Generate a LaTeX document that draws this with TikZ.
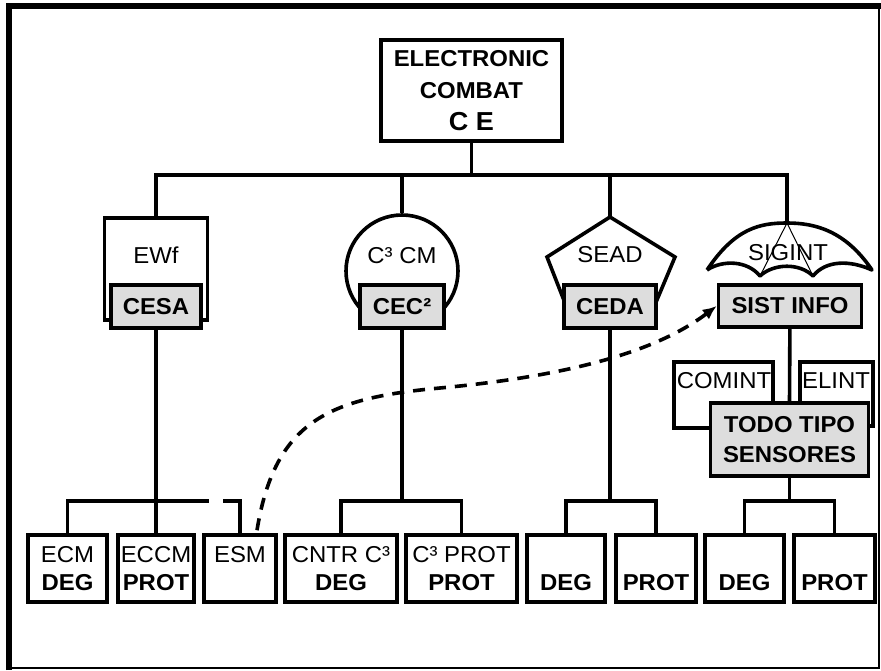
\documentclass[tikz,border=0pt]{standalone}
\usepackage{fontspec}
\setmainfont{Liberation Sans}[FakeStretch=1.04]
\usetikzlibrary{arrows.meta}
\definecolor{grigio}{HTML}{DDDDDD}
\tikzset{
  linea/.style={line width=3.6pt},
  scatola/.style={draw,linea,inner sep=0pt,align=center,font=\fontsize{23}{28}\selectfont},
  grigia/.style={scatola,fill=grigio,minimum height=43,font=\fontsize{23}{30}\selectfont\bfseries},
  foglia/.style={scatola,fill=white,minimum height=67},
  testo/.style={inner sep=0pt,font=\fontsize{23}{26}\selectfont}
}
\begin{document}
\begin{tikzpicture}[x=1pt,y=-1pt]
        \useasboundingbox(0,0)rectangle(881,670);
        %cornice esterna
        \draw[line width=6pt](9,670)--(9,6)--(881,6);
        \draw[line width=1.2pt](879,6)--(879,668)--(9,668);

        %scatola principale
        \node[scatola,minimum width=181,minimum height=101,font=\fontsize{23}{32}\selectfont\bfseries](ce)at(471.5,90.5)
             {ELECTRONIC\\COMBAT\\{\fontsize{26}{32}\selectfont C E}};
        \coordinate(nodo)at(471.5,175);

        %EWf
        \node[scatola,minimum width=103,minimum height=102](ewf)at(156,269){};
        \node[testo](tewf)at(156,255){EWf};

        %C3 CM
        \node[draw,linea,circle,minimum size=112,inner sep=0pt](ccm)at(402,271){};
        \node[testo](tccm)at(402,256){C³ CM};

        %SEAD
        \coordinate(sead)at(610,217);
        \draw[linea,line join=miter](sead)--(675,257)--(646,326)--(574,326)--(547,257)--cycle;
        \node[testo](tsead)at(610,255){SEAD};

        %SIGINT ombrello
        \coordinate(ombrello)at(787,223);
        \draw[linea,line join=round](707,270)..controls(735,228)and(760,223)..(ombrello)
              ..controls(814,223)and(845,230)..(872,270)
              ..controls(850,260)and(826,260)..(813,276)
              ..controls(800,263)and(774,263)..(760,276)
              ..controls(747,260)and(722,260)..(707,270);
        \draw[line width=1pt](ombrello)--(760,276);
        \draw[line width=1pt](ombrello)--(813,276);
        \node[testo](tsigint)at(788,253){SIGINT};

        %albero in alto
        \draw[linea](ce)--(nodo);
        \draw[linea](ewf.north)|-(nodo)-|(ombrello);
        \draw[linea](ccm.north)--(ccm.north|-nodo);
        \draw[linea](sead)--(sead|-nodo);

        %COMINT ed ELINT
        \node[scatola,minimum width=99,minimum height=66](comint)at(723.5,395){};
        \node[testo](tcomint)at(724,381){COMINT};
        \node[scatola,minimum width=73,minimum height=64](elint)at(836.5,394){};
        \node[testo](telint)at(836,381){ELINT};

        %scatole grigie
        \node[grigia,minimum width=90](cesa)at(156,306.5){CESA};
        \node[grigia,minimum width=84](cec)at(402,306.5){CEC²};
        \node[grigia,minimum width=92](ceda)at(610,306.5){CEDA};
        \node[grigia,minimum width=143,minimum height=42](sist)at(790,306){SIST INFO};
        \draw[linea](sist)--(789.5,403);
        \node[grigia,minimum width=158,minimum height=73](todo)at(789.5,439.5){TODO TIPO\\SENSORES};

        %scatole in basso
        \node[foglia,minimum width=79](ecm)at(67.5,568.5){ECM\\\textbf{DEG}};
        \node[foglia,minimum width=76](eccm)at(156,568.5){ECCM\\\textbf{PROT}};
        \node[foglia,minimum width=72](esm)at(240,568.5){ESM\\\vphantom{DEG}};
        \node[foglia,minimum width=112](cntr)at(341,568.5){CNTR C³\\\textbf{DEG}};
        \node[foglia,minimum width=111](cprot)at(461.5,568.5){C³ PROT\\\textbf{PROT}};
        \node[foglia,minimum width=78](degA)at(566,568.5){\vphantom{E}\\\textbf{DEG}};
        \node[foglia,minimum width=80](protA)at(656,568.5){\vphantom{E}\\\textbf{PROT}};
        \node[foglia,minimum width=79](degB)at(744.5,568.5){\vphantom{E}\\\textbf{DEG}};
        \node[foglia,minimum width=81](protB)at(834.5,568.5){\vphantom{E}\\\textbf{PROT}};

        %rami in basso
        \coordinate(taglioA)at(209,501);
        \coordinate(taglioB)at(223,501);
        \draw[linea](cesa)--(eccm);
        \draw[linea](ecm.north)|-(taglioA);
        \draw[linea](esm.north)|-(taglioB);
        \coordinate(bus2)at(402,501);
        \draw[linea](cec)--(bus2);
        \draw[linea](cntr.north)|-(bus2)-|(cprot.north);
        \coordinate(bus3)at(610,501);
        \draw[linea](ceda)--(bus3);
        \draw[linea](degA.north)|-(bus3)-|(protA.north);
        \coordinate(bus4)at(789.5,501);
        \draw[linea](todo)--(bus4);
        \draw[linea](degB.north)|-(bus4)-|(protB.north);

        %freccia tratteggiata
        \draw[linea,dash pattern=on 12pt off 9pt,-{Latex[length=14pt,width=12pt]}]
             ([xshift=17pt,yshift=3pt]esm.north)..controls(275,420)and(330,398)..(440,388)
             ..controls(590,374)and(665,345)..(sist.west);
\end{tikzpicture}
\end{document}
